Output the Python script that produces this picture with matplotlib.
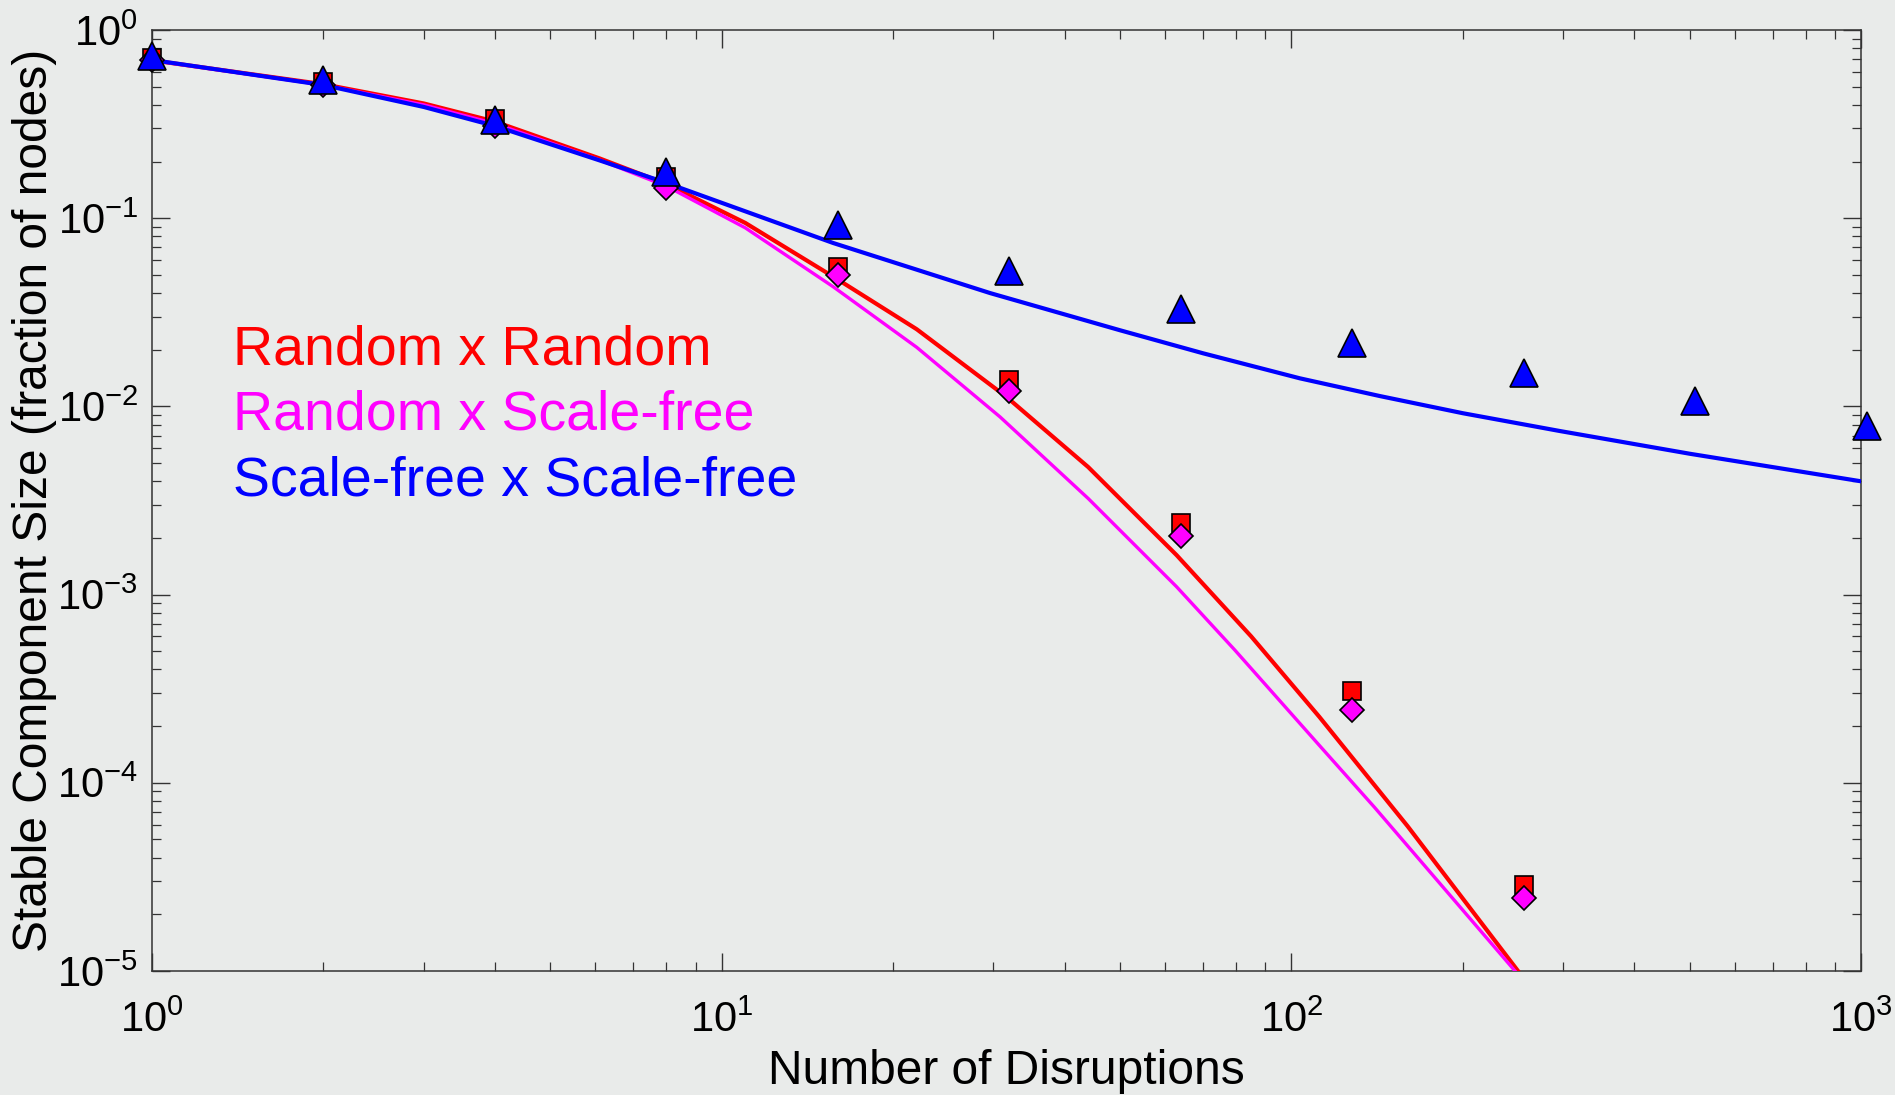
import matplotlib
matplotlib.use('Agg')
import matplotlib.pyplot as plt

plt.rcParams['font.family'] = ['Liberation Sans', 'DejaVu Sans']
plt.rcParams['mathtext.fontset'] = 'custom'
plt.rcParams['mathtext.rm'] = 'Liberation Sans'
plt.rcParams['mathtext.it'] = 'Liberation Sans:italic'
plt.rcParams['mathtext.bf'] = 'Liberation Sans:bold'
plt.rcParams['axes.unicode_minus'] = False

# simulation points (markers)
x_sim = [1, 2, 4, 8, 16, 32, 64, 128, 256, 512, 1024]
rr_sim = [0.71, 0.53, 0.335, 0.165, 0.0551, 0.0138, 0.00241, 0.000307, 0.0000286]
rs_sim = [0.69, 0.51, 0.31, 0.144, 0.0501, 0.0120, 0.00204, 0.000243, 0.0000243]
ss_sim = [0.727, 0.542, 0.332, 0.176, 0.092, 0.0527, 0.0329, 0.0216, 0.0150, 0.0107, 0.00787]

# theory curves
rr_x = [1, 2, 3, 4, 6.1, 8, 11, 15.7, 22, 31.6, 44, 62.9, 85, 112, 160, 250]
rr_y = [0.69, 0.515, 0.407, 0.326, 0.208, 0.152, 0.0944, 0.0489, 0.0257, 0.01125,
        0.00476, 0.00162, 0.00060, 0.000224, 0.0000588, 0.00001]
rs_x = [1, 2, 3, 4, 6.1, 8, 11, 15.7, 22, 30.8, 44, 62.9, 79.6, 112, 140, 247]
rs_y = [0.69, 0.51, 0.40, 0.318, 0.204, 0.148, 0.0889, 0.0432, 0.0206, 0.0088,
        0.00324, 0.0011, 0.000507, 0.000158, 0.000074, 0.00001]
ss_x = [1, 2, 3, 4, 6.1, 8, 15.7, 29.6, 50, 70, 103.5, 143, 200, 296, 501, 1000]
ss_y = [0.693, 0.51, 0.39, 0.309, 0.203, 0.154, 0.0738, 0.040, 0.0254, 0.01915,
        0.0141, 0.01135, 0.0092, 0.0074, 0.0056, 0.0040]

labels = ['Random x Random', 'Random x Scale-free', 'Scale-free x Scale-free']
colors = ['#ff0000', '#ff00ff', '#0000ff']

W, H = 1895, 1095
bg = '#e9ebea'
fig = plt.figure(figsize=(W / 100, H / 100), dpi=100, facecolor=bg)
ax = fig.add_axes([152 / W, (H - 971) / H, 1709 / W, 941 / H], facecolor=bg)

ax.plot(rr_x, rr_y, color=colors[0], lw=3.0, zorder=3)
ax.plot(rs_x, rs_y, color=colors[1], lw=2.4, zorder=3)
ax.plot(ss_x, ss_y, color=colors[2], lw=3.0, zorder=3)

ax.plot(x_sim[:len(rr_sim)], rr_sim, 's', ms=13, mfc=colors[0], mec='black',
        mew=1.2, zorder=4, clip_on=False)
ax.plot(x_sim[:len(rs_sim)], rs_sim, 'D', ms=12, mfc=colors[1], mec='black',
        mew=1.2, zorder=5, clip_on=False)
ax.plot(x_sim, ss_sim, '^', ms=20, mfc=colors[2], mec='black',
        mew=1.2, zorder=6, clip_on=False)

ax.set_xscale('log')
ax.set_yscale('log')
ax.set_xlim(1, 1000)
ax.set_ylim(1e-5, 1)

for s in ax.spines.values():
    s.set_color('#333333')
    s.set_linewidth(1.1)
ax.tick_params(which='both', direction='in', top=True, right=True,
               colors='#333333', labelcolor='black')
ax.tick_params(which='major', length=13, width=1.0, labelsize=30)
ax.tick_params(which='minor', length=6.5, width=0.9)
ax.tick_params(axis='x', which='major', pad=21)
ax.tick_params(axis='y', which='major', pad=10)

ax.set_xlabel('Number of Disruptions', fontsize=34.5, labelpad=6)
ax.set_ylabel('Stable Component Size (fraction of nodes)', fontsize=34.5, labelpad=0)

for i, (lab, c) in enumerate(zip(labels, colors)):
    fig.text(233 / W, 1 - (365 + 65 * i) / H, lab, color=c, fontsize=40,
             va='baseline', ha='left')

fig.savefig('out.png', dpi=100, facecolor=bg)
